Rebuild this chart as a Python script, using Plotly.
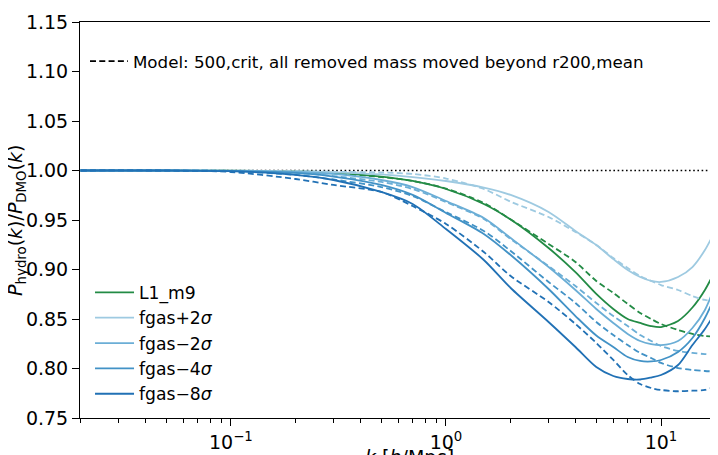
import plotly.graph_objects as go
import numpy as np

# wavenumber grid k [h/Mpc]
k = [0.02, 0.05, 0.1, 0.2, 0.3, 0.5, 0.7, 1.0, 1.5, 2.0, 3.0, 4.0, 5.0, 6.0,
     7.0, 8.0, 9.0, 10.0, 12.0, 14.0, 16.0, 18.4]

# simulation ratios P_hydro / P_DMO
l1_m9 = [1.000, 1.000, 0.9998, 0.999, 0.9977, 0.9939, 0.9894, 0.9813, 0.9662, 0.9505, 0.9217,
         0.8973, 0.8753, 0.8601, 0.850, 0.846, 0.8429, 0.8419, 0.848, 0.8616, 0.8793, 0.9045]
fgas_p2 = [1.000, 1.000, 0.9999, 0.9992, 0.9982, 0.996, 0.9934, 0.9894, 0.9828, 0.9753, 0.9581,
           0.9389, 0.9247, 0.9106, 0.8995, 0.8924, 0.8884, 0.8874, 0.8924, 0.9025, 0.9197, 0.9449]
fgas_m2 = [1.000, 1.000, 0.9997, 0.9985, 0.9965, 0.9904, 0.9833, 0.9692, 0.952, 0.9318, 0.9025,
           0.8793, 0.8601, 0.846, 0.8349, 0.8278, 0.8247, 0.8237, 0.8278, 0.8409, 0.8591, 0.8914]
fgas_m4 = [1.000, 1.000, 0.9995, 0.9975, 0.9939, 0.9854, 0.9753, 0.9571, 0.9359, 0.9146, 0.8803,
           0.853, 0.8333, 0.8217, 0.8116, 0.8076, 0.8071, 0.8086, 0.8167, 0.8308, 0.851, 0.8793]
fgas_m8 = [1.000, 1.000, 0.9993, 0.9955, 0.9904, 0.9783, 0.9662, 0.9409, 0.9096, 0.8813, 0.847,
           0.8217, 0.8015, 0.7924, 0.7894, 0.7889, 0.7909, 0.7934, 0.8035, 0.8237, 0.8399, 0.8611]

# model predictions
mod_l1_m9 = [1.000, 1.000, 0.9997, 0.9985, 0.997, 0.9934, 0.9894, 0.9818, 0.9672, 0.9505, 0.9258,
             0.9076, 0.8884, 0.8763, 0.8652, 0.8561, 0.850, 0.845, 0.8389, 0.8349, 0.8328, 0.8321]
mod_fgas_p2 = [1.000, 1.000, 0.9999, 0.9993, 0.9987, 0.998, 0.9965, 0.9919, 0.9813, 0.9685, 0.953,
               0.9379, 0.9247, 0.9116, 0.9015, 0.8934, 0.8884, 0.8843, 0.8793, 0.8732, 0.8692, 0.8675]
mod_fgas_m2 = [1.000, 1.000, 0.9995, 0.9975, 0.9944, 0.9884, 0.9813, 0.9682, 0.951, 0.9308, 0.9035,
               0.8833, 0.8662, 0.853, 0.8429, 0.8338, 0.8278, 0.8227, 0.8177, 0.8157, 0.8146, 0.814]
mod_fgas_m4 = [1.000, 1.000, 0.9993, 0.9955, 0.9909, 0.9833, 0.9742, 0.958, 0.9389, 0.9187, 0.8874,
               0.8662, 0.847, 0.8338, 0.8237, 0.8157, 0.8106, 0.8056, 0.8005, 0.7985, 0.7975, 0.7968]
mod_fgas_m8 = [1.000, 0.9999, 0.9985, 0.9914, 0.9854, 0.9783, 0.9641, 0.946, 0.9177, 0.8934, 0.8672,
               0.845, 0.8258, 0.8086, 0.7934, 0.7843, 0.7803, 0.7783, 0.777, 0.7776, 0.7783, 0.7826]

names = ["L1_m9", "fgas+2<i>σ</i>", "fgas−2<i>σ</i>", "fgas−4<i>σ</i>", "fgas−8<i>σ</i>"]
colors = ["#238b45", "#9ecae1", "#6baed6", "#4292c6", "#2171b5"]
sims = [l1_m9, fgas_p2, fgas_m2, fgas_m4, fgas_m8]
models = [mod_l1_m9, mod_fgas_p2, mod_fgas_m2, mod_fgas_m4, mod_fgas_m8]
model_label = "Model: 500,crit, all removed mass moved beyond r200,mean"

FONT = "DejaVu Sans"
LW = 1.8
DASH = "6px,3.3px"

fig = go.Figure()

# reference line at unity
fig.add_hline(y=1, line=dict(color="black", width=1.6, dash="1.6px,2.6px"), layer="below")

for name, col, sim, mod in zip(names, colors, sims, models):
    fig.add_trace(go.Scatter(x=k, y=sim, mode="lines", name=name, legend="legend2",
                             line=dict(color=col, width=LW, shape="spline", smoothing=0.8)))
    fig.add_trace(go.Scatter(x=k, y=mod, mode="lines", showlegend=False,
                             line=dict(color=col, width=LW, dash=DASH, shape="spline", smoothing=0.8)))

# legend-only entry for the model line style
fig.add_trace(go.Scatter(x=[None], y=[None], mode="lines", name=model_label, legend="legend",
                         line=dict(color="black", width=LW, dash=DASH)))

minor_vals = [m * 10.0 ** e for e in (-2, -1, 0, 1) for m in range(2, 10)]

# the page body keeps an 8px margin, so the figure is 8px smaller and shifted
fig.update_layout(
    width=710, height=447,
    margin=dict(l=72, r=0, t=14, b=37),
    paper_bgcolor="white", plot_bgcolor="white",
    font=dict(family=FONT, size=19, color="black"),
    xaxis=dict(
        type="log", range=[np.log10(0.01987), 1.265],
        showgrid=False, zeroline=False,
        showline=True, linecolor="black", linewidth=1, mirror=True,
        ticks="outside", ticklen=7, tickwidth=1, tickcolor="black",
        tickvals=[0.1, 1, 10],
        ticktext=["10<sup>−1</sup>", "10<sup>0</sup>", "10<sup>1</sup>"],
        tickfont=dict(size=19),
        minor=dict(tickvals=minor_vals, ticklen=4, tickwidth=0.8, tickcolor="black", ticks="outside"),
    ),
    yaxis=dict(
        range=[0.75, 1.15], showgrid=False, zeroline=False,
        showline=True, linecolor="black", linewidth=1,
        ticks="outside", ticklen=7, tickwidth=1, tickcolor="black",
        tickvals=[0.75, 0.8, 0.85, 0.9, 0.95, 1.0, 1.05, 1.1, 1.15],
        tickformat=".2f", tickfont=dict(size=19),
    ),
    legend=dict(x=0.0078, y=0.945, xanchor="left", yanchor="top", bgcolor="rgba(0,0,0,0)",
                font=dict(size=16.7), itemwidth=38),
    legend2=dict(x=0.0157, y=0.362, xanchor="left", yanchor="top", bgcolor="rgba(0,0,0,0)",
                 font=dict(size=17.2), itemwidth=39, tracegroupgap=0),
    annotations=[
        dict(text="<i>P</i><sub>hydro</sub>(<i>k</i>)/<i>P</i><sub>DMO</sub>(<i>k</i>)",
             xref="paper", yref="paper", x=-0.1005, y=0.5, xanchor="center", yanchor="middle",
             textangle=-90, showarrow=False, font=dict(size=19)),
        dict(text="<i>k</i> [<i>h</i>/Mpc]", xref="paper", yref="paper", x=0.517, y=-0.066,
             xanchor="center", yanchor="top", showarrow=False, font=dict(size=19)),
    ],
)

fig.write_html("out.html")
